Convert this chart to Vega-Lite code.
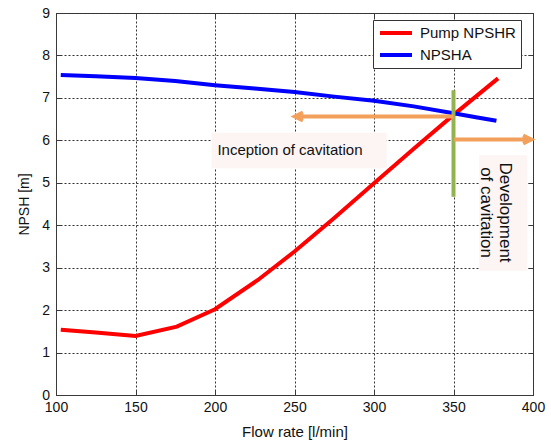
{
  "$schema": "https://vega.github.io/schema/vega-lite/v6.json",
  "width": 477,
  "height": 382,
  "autosize": {"type": "none"},
  "padding": {"left": 56, "top": 13, "right": 18, "bottom": 52},
  "background": "white",
  "config": {
    "font": "Liberation Sans",
    "view": {"stroke": "#3a3a3a", "strokeWidth": 1},
    "axis": {
      "domainColor": "#3a3a3a",
      "tickColor": "#3a3a3a",
      "tickSize": -5,
      "gridColor": "#333333",
      "gridDash": [2, 2],
      "gridOpacity": 1,
      "gridWidth": 1,
      "labelFont": "Liberation Sans",
      "labelFontSize": 14,
      "labelColor": "#111111",
      "titleFont": "Liberation Sans",
      "titleFontWeight": "normal",
      "titleColor": "#111111"
    }
  },
  "resolve": {"axis": {"x": "independent", "y": "independent"}},
  "datasets": {
    "curves": [
      {"series": "Pump NPSHR", "flow": 103, "npsh": 1.54},
      {"series": "Pump NPSHR", "flow": 125, "npsh": 1.47},
      {"series": "Pump NPSHR", "flow": 150, "npsh": 1.39},
      {"series": "Pump NPSHR", "flow": 176, "npsh": 1.61},
      {"series": "Pump NPSHR", "flow": 200, "npsh": 2.02},
      {"series": "Pump NPSHR", "flow": 227, "npsh": 2.71},
      {"series": "Pump NPSHR", "flow": 250, "npsh": 3.38},
      {"series": "Pump NPSHR", "flow": 275, "npsh": 4.17},
      {"series": "Pump NPSHR", "flow": 300, "npsh": 4.99},
      {"series": "Pump NPSHR", "flow": 325, "npsh": 5.8},
      {"series": "Pump NPSHR", "flow": 350, "npsh": 6.6},
      {"series": "Pump NPSHR", "flow": 378, "npsh": 7.46},
      {"series": "NPSHA", "flow": 103, "npsh": 7.54},
      {"series": "NPSHA", "flow": 125, "npsh": 7.51},
      {"series": "NPSHA", "flow": 150, "npsh": 7.47},
      {"series": "NPSHA", "flow": 175, "npsh": 7.4},
      {"series": "NPSHA", "flow": 200, "npsh": 7.3},
      {"series": "NPSHA", "flow": 225, "npsh": 7.22},
      {"series": "NPSHA", "flow": 250, "npsh": 7.14},
      {"series": "NPSHA", "flow": 275, "npsh": 7.03},
      {"series": "NPSHA", "flow": 300, "npsh": 6.93},
      {"series": "NPSHA", "flow": 325, "npsh": 6.8},
      {"series": "NPSHA", "flow": 350, "npsh": 6.64},
      {"series": "NPSHA", "flow": 365, "npsh": 6.54},
      {"series": "NPSHA", "flow": 377, "npsh": 6.46}
    ],
    "boxes": [
      {"x1": 197.9, "x2": 308, "y1": 6.18, "y2": 5.34},
      {"x1": 366.2, "x2": 396.4, "y1": 5.65, "y2": 2.93}
    ],
    "shafts": [
      {"x1": 350, "x2": 251, "y": 6.56},
      {"x1": 350.5, "x2": 398, "y": 6.02}
    ],
    "marker": [
      {"x": 350, "y1": 7.18, "y2": 4.67}
    ],
    "heads": [
      {"dir": "left", "x": 250.3, "y": 6.56},
      {"dir": "right", "x": 398.8, "y": 6.02}
    ],
    "note1": [
      {"x": 201.5, "y": 5.77, "label": "Inception of cavitation"}
    ],
    "note2": [
      {"x": 382.1, "y": 4.3, "label": "Development\nof cavitation"}
    ]
  },
  "layer": [
    {
      "data": {"name": "curves"},
      "mark": {"type": "line", "strokeWidth": 4},
      "encoding": {
        "x": {
          "field": "flow", "type": "quantitative",
          "scale": {"domain": [100, 400], "nice": false},
          "axis": {
            "values": [100, 150, 200, 250, 300, 350, 400],
            "labelFlush": false,
            "labelPadding": 10,
            "title": "Flow rate [l/min]",
            "titleFontSize": 15,
            "titlePadding": 10
          }
        },
        "y": {
          "field": "npsh", "type": "quantitative",
          "scale": {"domain": [0, 9], "nice": false},
          "axis": {
            "values": [0, 1, 2, 3, 4, 5, 6, 7, 8, 9],
            "labelPadding": 11.5,
            "title": "NPSH [m]",
            "titleFontSize": 14,
            "titlePadding": 10
          }
        },
        "color": {
          "field": "series", "type": "nominal",
          "scale": {"domain": ["Pump NPSHR", "NPSHA"], "range": ["#ff0000", "#0000ff"]},
          "legend": {
            "title": null,
            "orient": "none",
            "legendX": 317,
            "legendY": 7,
            "symbolType": "stroke",
            "symbolSize": 1024,
            "symbolStrokeWidth": 4,
            "clipHeight": 16,
            "rowPadding": 6,
            "labelFontSize": 15,
            "labelFont": "Liberation Sans",
            "labelColor": "#111111",
            "labelOffset": 6,
            "padding": 5,
            "strokeColor": "#333333",
            "fillColor": "white"
          }
        }
      }
    },
    {
      "data": {"name": "curves"},
      "mark": {"type": "point", "opacity": 0},
      "encoding": {
        "x": {
          "field": "flow", "type": "quantitative",
          "axis": {"orient": "top", "values": [100, 150, 200, 250, 300, 350, 400], "labels": false, "grid": false, "domain": false, "title": null}
        },
        "y": {
          "field": "npsh", "type": "quantitative",
          "axis": {"orient": "right", "values": [0, 1, 2, 3, 4, 5, 6, 7, 8, 9], "labels": false, "grid": false, "domain": false, "title": null}
        }
      }
    },
    {
      "data": {"name": "boxes"},
      "mark": {"type": "rect", "fill": "#fdf5f4"},
      "encoding": {
        "x": {"field": "x1", "type": "quantitative", "axis": null},
        "x2": {"field": "x2"},
        "y": {"field": "y1", "type": "quantitative", "axis": null},
        "y2": {"field": "y2"}
      }
    },
    {
      "data": {"name": "marker"},
      "mark": {"type": "rule", "stroke": "#93b350", "strokeWidth": 4},
      "encoding": {
        "x": {"field": "x", "type": "quantitative", "axis": null},
        "y": {"field": "y1", "type": "quantitative", "axis": null},
        "y2": {"field": "y2"}
      }
    },
    {
      "data": {"name": "shafts"},
      "mark": {"type": "rule", "stroke": "#f2a05c", "strokeWidth": 4},
      "encoding": {
        "x": {"field": "x1", "type": "quantitative", "axis": null},
        "x2": {"field": "x2"},
        "y": {"field": "y", "type": "quantitative", "axis": null}
      }
    },
    {
      "data": {"name": "heads"},
      "mark": {"type": "point", "filled": false, "stroke": "#f2a05c", "strokeWidth": 4, "opacity": 1, "size": 64, "strokeJoin": "miter"},
      "encoding": {
        "x": {"field": "x", "type": "quantitative", "axis": null},
        "y": {"field": "y", "type": "quantitative", "axis": null},
        "shape": {
          "field": "dir", "type": "nominal",
          "scale": {"domain": ["left", "right"], "range": ["M2,-1L0,0L2,1", "M-2,-1L0,0L-2,1"]},
          "legend": null
        }
      }
    },
    {
      "data": {"name": "note1"},
      "mark": {"type": "text", "align": "left", "baseline": "middle", "fontSize": 15, "font": "Liberation Sans", "color": "#111111"},
      "encoding": {
        "x": {"field": "x", "type": "quantitative", "axis": null},
        "y": {"field": "y", "type": "quantitative", "axis": null},
        "text": {"field": "label"}
      }
    },
    {
      "data": {"name": "note2"},
      "mark": {"type": "text", "align": "center", "baseline": "middle", "angle": 90, "fontSize": 17, "lineHeight": 19, "lineBreak": "\n", "font": "Liberation Sans", "color": "#111111"},
      "encoding": {
        "x": {"field": "x", "type": "quantitative", "axis": null},
        "y": {"field": "y", "type": "quantitative", "axis": null},
        "text": {"field": "label"}
      }
    }
  ]
}
